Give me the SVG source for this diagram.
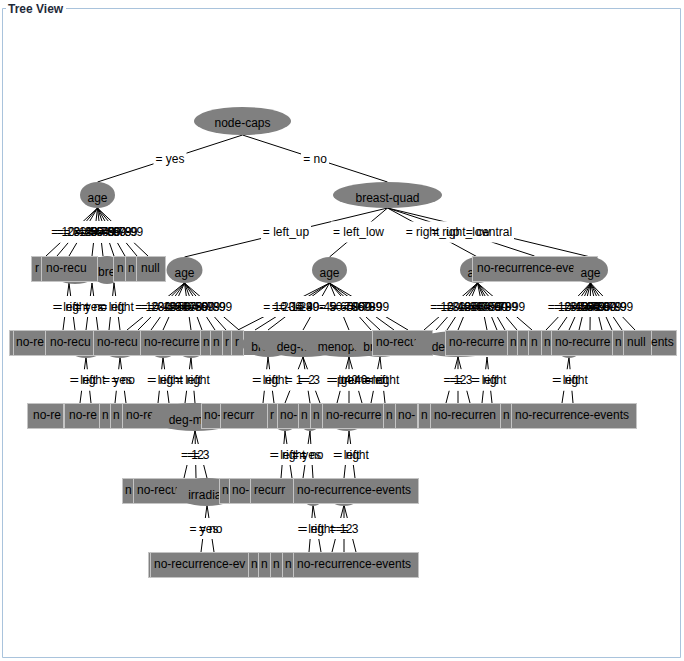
<svg xmlns="http://www.w3.org/2000/svg" width="684" height="661" viewBox="0 0 684 661">
<style>
.e{fill:#808080}
.l{fill:#808080;stroke:#c4c4c4;stroke-width:1}
.f{fill:#808080}
text{font-family:"Liberation Sans",Arial,sans-serif;font-size:12px;fill:#000}
.m{text-anchor:middle}
.b{fill:#fff}
#connectors path{stroke:#000;stroke-width:1;fill:none}
</style>
<rect width="684" height="661" fill="#fff"/>
<g id="frame">
<path d="M6 8.5H2.5V657.5H680.5V8.5H66" fill="none" stroke="#a9c3dc"/>
<text x="8" y="13" style="font-weight:bold;fill:#1e2a3a">Tree View</text>
</g>
<g id="connectors">
<path d="M242.5 135L97.5 182M242.5 135L387.5 182"/>
<path d="M97.5 208L46 256M97.5 208L57 256M97.5 208L69 256M97.5 208L92 256M97.5 208L103 256M97.5 208L114 256M97.5 208L125 256M97.5 208L137 256M97.5 208L148 256"/>
<path d="M387.5 208L184.5 257M387.5 208L329.5 257M387.5 208L477.5 257M387.5 208L534.5 256M387.5 208L590.5 257"/>
<path d="M69 283L63 330M69 283L75 330M92 283L86 330M92 283L98 330M114 283L109 330M114 283L120 330"/>
<path d="M184.5 283L127 330M184.5 283L138 330M184.5 283L151 330M184.5 283L163 330M184.5 283L191 330M184.5 283L202 330M184.5 283L215 330M184.5 283L226 330M184.5 283L239 330"/>
<path d="M329.5 283L238 330M329.5 283L255 330M329.5 283L268 330M329.5 283L303 330M329.5 283L349 330M329.5 283L371 330M329.5 283L380 330M329.5 283L394 330M329.5 283L408 330"/>
<path d="M477.5 283L424 330M477.5 283L436 330M477.5 283L447 330M477.5 283L458 330M477.5 283L487 330M477.5 283L497 330M477.5 283L505 330M477.5 283L517 330M477.5 283L532 330"/>
<path d="M590.5 283L546 330M590.5 283L558 330M590.5 283L569 330M590.5 283L579 330M590.5 283L590 330M590.5 283L602 330M590.5 283L612 330M590.5 283L622 330M590.5 283L635 330"/>
<path d="M86 357L80 403M86 357L91 403M120 357L115 403M120 357L126 403M163 357L158 403M163 357L169 403M191 357L185 403M191 357L195 403"/>
<path d="M268 357L263 403M268 357L274 403M303 357L285 403M303 357L310 403M303 357L320 403M349 357L337 403M349 357L349 403M349 357L362 403M380 357L371 403M380 357L385 403"/>
<path d="M458 357L446 403M458 357L458 403M458 357L470 403M487 357L482 403M487 357L492 403M569 357L562 403M569 357L573 403"/>
<path d="M195 431L184 478M195 431L196 478M195 431L207 478M285 431L281 478M285 431L292 478M310 431L303 478M310 431L313 478M349 431L344 478M349 431L355 478"/>
<path d="M207 505L201 552M207 505L214 552M313 505L309 552M313 505L321 552M344 505L332 552M344 505L344 552M344 505L356 552"/>
</g>
<g id="edge-labels">
<g id="label-boxes" class="b">
<rect x="153.5" y="148" width="33" height="21"/><rect x="301" y="148" width="28" height="21"/>
<rect x="49.25" y="221.5" width="45" height="21"/><rect x="54.75" y="221.5" width="45" height="21"/><rect x="60.75" y="221.5" width="45" height="21"/><rect x="72.25" y="221.5" width="45" height="21"/><rect x="77.75" y="221.5" width="45" height="21"/><rect x="83.25" y="221.5" width="45" height="21"/><rect x="88.75" y="221.5" width="45" height="21"/><rect x="94.75" y="221.5" width="45" height="21"/><rect x="100.25" y="221.5" width="45" height="21"/>
<rect x="261" y="221.5" width="50" height="21"/><rect x="331" y="221.5" width="55" height="21"/><rect x="403.5" y="221.5" width="58" height="21"/><rect x="430" y="221.5" width="62" height="21"/><rect x="464" y="221.5" width="50" height="21"/>
<rect x="51" y="296" width="30" height="21"/><rect x="53" y="296" width="38" height="21"/><rect x="72.5" y="296" width="33" height="21"/><rect x="81" y="296" width="28" height="21"/><rect x="96.5" y="296" width="30" height="21"/><rect x="98" y="296" width="38" height="21"/>
<rect x="133.25" y="296" width="45" height="21"/><rect x="138.75" y="296" width="45" height="21"/><rect x="145.25" y="296" width="45" height="21"/><rect x="151.25" y="296" width="45" height="21"/><rect x="165.25" y="296" width="45" height="21"/><rect x="170.75" y="296" width="45" height="21"/><rect x="177.25" y="296" width="45" height="21"/><rect x="182.75" y="296" width="45" height="21"/><rect x="189.25" y="296" width="45" height="21"/>
<rect x="261.25" y="296" width="45" height="21"/><rect x="269.75" y="296" width="45" height="21"/><rect x="276.25" y="296" width="45" height="21"/><rect x="293.75" y="296" width="45" height="21"/><rect x="316.75" y="296" width="45" height="21"/><rect x="327.75" y="296" width="45" height="21"/><rect x="332.25" y="296" width="45" height="21"/><rect x="339.25" y="296" width="45" height="21"/><rect x="346.25" y="296" width="45" height="21"/>
<rect x="428.25" y="296" width="45" height="21"/><rect x="434.25" y="296" width="45" height="21"/><rect x="439.75" y="296" width="45" height="21"/><rect x="445.25" y="296" width="45" height="21"/><rect x="459.75" y="296" width="45" height="21"/><rect x="464.75" y="296" width="45" height="21"/><rect x="468.75" y="296" width="45" height="21"/><rect x="474.75" y="296" width="45" height="21"/><rect x="482.25" y="296" width="45" height="21"/>
<rect x="545.75" y="296" width="45" height="21"/><rect x="551.75" y="296" width="45" height="21"/><rect x="557.25" y="296" width="45" height="21"/><rect x="562.25" y="296" width="45" height="21"/><rect x="567.75" y="296" width="45" height="21"/><rect x="573.75" y="296" width="45" height="21"/><rect x="578.75" y="296" width="45" height="21"/><rect x="583.75" y="296" width="45" height="21"/><rect x="590.25" y="296" width="45" height="21"/>
<rect x="68" y="369.5" width="30" height="21"/><rect x="69.5" y="369.5" width="38" height="21"/><rect x="101" y="369.5" width="33" height="21"/><rect x="109" y="369.5" width="28" height="21"/><rect x="145.5" y="369.5" width="30" height="21"/><rect x="147" y="369.5" width="38" height="21"/><rect x="173" y="369.5" width="30" height="21"/><rect x="174" y="369.5" width="38" height="21"/>
<rect x="250.5" y="369.5" width="30" height="21"/><rect x="252" y="369.5" width="38" height="21"/><rect x="283.5" y="369.5" width="21" height="21"/><rect x="296" y="369.5" width="21" height="21"/><rect x="301" y="369.5" width="21" height="21"/><rect x="324.5" y="369.5" width="62" height="21"/><rect x="326" y="369.5" width="34" height="21"/><rect x="328.5" y="369.5" width="41" height="21"/><rect x="360.5" y="369.5" width="30" height="21"/><rect x="363.5" y="369.5" width="38" height="21"/>
<rect x="441.5" y="369.5" width="21" height="21"/><rect x="447.5" y="369.5" width="21" height="21"/><rect x="453.5" y="369.5" width="21" height="21"/><rect x="469.5" y="369.5" width="30" height="21"/><rect x="470.5" y="369.5" width="38" height="21"/><rect x="550.5" y="369.5" width="30" height="21"/><rect x="552" y="369.5" width="38" height="21"/>
<rect x="179" y="444" width="21" height="21"/><rect x="185" y="444" width="21" height="21"/><rect x="190.5" y="444" width="21" height="21"/><rect x="268" y="444" width="30" height="21"/><rect x="269.5" y="444" width="38" height="21"/><rect x="290" y="444" width="33" height="21"/><rect x="297.5" y="444" width="28" height="21"/><rect x="331.5" y="444" width="30" height="21"/><rect x="333" y="444" width="38" height="21"/>
<rect x="187.5" y="518" width="33" height="21"/><rect x="196.5" y="518" width="28" height="21"/><rect x="296" y="518" width="30" height="21"/><rect x="298" y="518" width="38" height="21"/><rect x="327.5" y="518" width="21" height="21"/><rect x="333.5" y="518" width="21" height="21"/><rect x="339.5" y="518" width="21" height="21"/>
</g>
<g id="label-texts" class="m">
<text x="170" y="162.5">= yes</text><text x="315" y="162.5">= no</text>
<text x="71.75" y="236">= 10-19</text><text x="77.25" y="236">= 20-29</text><text x="83.25" y="236">= 30-39</text><text x="94.75" y="236">= 40-49</text><text x="100.25" y="236">= 50-59</text><text x="105.75" y="236">= 60-69</text><text x="111.25" y="236">= 70-79</text><text x="117.25" y="236">= 80-89</text><text x="122.75" y="236">= 90-99</text>
<text x="286" y="236">= left_up</text><text x="358.5" y="236">= left_low</text><text x="432.5" y="236">= right_up</text><text x="461" y="236">= right_low</text><text x="489" y="236">= central</text>
<text x="66" y="310.5">= left</text><text x="72" y="310.5">= right</text><text x="89" y="310.5">= yes</text><text x="95" y="310.5">= no</text><text x="111.5" y="310.5">= left</text><text x="117" y="310.5">= right</text>
<text x="155.75" y="310.5">= 10-19</text><text x="161.25" y="310.5">= 20-29</text><text x="167.75" y="310.5">= 30-39</text><text x="173.75" y="310.5">= 40-49</text><text x="187.75" y="310.5">= 50-59</text><text x="193.25" y="310.5">= 60-69</text><text x="199.75" y="310.5">= 70-79</text><text x="205.25" y="310.5">= 80-89</text><text x="211.75" y="310.5">= 90-99</text>
<text x="283.75" y="310.5">= 10-19</text><text x="292.25" y="310.5">= 20-29</text><text x="298.75" y="310.5">= 30-39</text><text x="316.25" y="310.5">= 40-49</text><text x="339.25" y="310.5">= 50-59</text><text x="350.25" y="310.5">= 60-69</text><text x="354.75" y="310.5">= 70-79</text><text x="361.75" y="310.5">= 80-89</text><text x="368.75" y="310.5">= 90-99</text>
<text x="450.75" y="310.5">= 10-19</text><text x="456.75" y="310.5">= 20-29</text><text x="462.25" y="310.5">= 30-39</text><text x="467.75" y="310.5">= 40-49</text><text x="482.25" y="310.5">= 50-59</text><text x="487.25" y="310.5">= 60-69</text><text x="491.25" y="310.5">= 70-79</text><text x="497.25" y="310.5">= 80-89</text><text x="504.75" y="310.5">= 90-99</text>
<text x="568.25" y="310.5">= 10-19</text><text x="574.25" y="310.5">= 20-29</text><text x="579.75" y="310.5">= 30-39</text><text x="584.75" y="310.5">= 40-49</text><text x="590.25" y="310.5">= 50-59</text><text x="596.25" y="310.5">= 60-69</text><text x="601.25" y="310.5">= 70-79</text><text x="606.25" y="310.5">= 80-89</text><text x="612.75" y="310.5">= 90-99</text>
<text x="83" y="384">= left</text><text x="88.5" y="384">= right</text><text x="117.5" y="384">= yes</text><text x="123" y="384">= no</text><text x="160.5" y="384">= left</text><text x="166" y="384">= right</text><text x="188" y="384">= left</text><text x="193" y="384">= right</text>
<text x="265.5" y="384">= left</text><text x="271" y="384">= right</text><text x="294" y="384">= 1</text><text x="306.5" y="384">= 2</text><text x="311.5" y="384">= 3</text><text x="355.5" y="384">= premeno</text><text x="343" y="384">= lt40</text><text x="349" y="384">= ge40</text><text x="375.5" y="384">= left</text><text x="382.5" y="384">= right</text>
<text x="452" y="384">= 1</text><text x="458" y="384">= 2</text><text x="464" y="384">= 3</text><text x="484.5" y="384">= left</text><text x="489.5" y="384">= right</text><text x="565.5" y="384">= left</text><text x="571" y="384">= right</text>
<text x="189.5" y="458.5">= 1</text><text x="195.5" y="458.5">= 2</text><text x="201" y="458.5">= 3</text><text x="283" y="458.5">= left</text><text x="288.5" y="458.5">= right</text><text x="306.5" y="458.5">= yes</text><text x="311.5" y="458.5">= no</text><text x="346.5" y="458.5">= left</text><text x="352" y="458.5">= right</text>
<text x="204" y="532.5">= yes</text><text x="210.5" y="532.5">= no</text><text x="311" y="532.5">= left</text><text x="317" y="532.5">= right</text><text x="338" y="532.5">= 1</text><text x="344" y="532.5">= 2</text><text x="350" y="532.5">= 3</text>
</g>
</g>
<g id="nodes">
<g id="n-node-caps"><ellipse class="e" cx="242.5" cy="121" rx="48.5" ry="14"/><text class="m" x="242.5" y="127">node-caps</text></g>
<g id="n-age-yes"><ellipse class="e" cx="97.5" cy="195" rx="17.5" ry="13"/><text class="m" x="97.5" y="201.5">age</text></g>
<g id="n-breast-quad"><ellipse class="e" cx="387.5" cy="195" rx="54.5" ry="13"/><text class="m" x="387.5" y="201.5">breast-quad</text></g>

<g id="row3">
<g id="n3-hidden"><ellipse class="e" cx="75" cy="270" rx="24" ry="14"/><ellipse class="e" cx="107" cy="270" rx="16" ry="14"/></g>
<g id="n3-1"><rect class="l" x="31.5" y="256.5" width="10" height="25"/><text x="35" y="272">r</text></g>
<g id="n3-2"><rect class="l" x="41.5" y="256.5" width="56" height="25"/><text x="46" y="272">no-recu</text></g>
<g id="n3-3"><rect class="f" x="98" y="257" width="15" height="24"/><text x="98" y="276">bre</text></g>
<g id="n3-4"><rect class="l" x="113.5" y="256.5" width="12" height="25"/><text x="117" y="272">n</text></g>
<g id="n3-5"><rect class="l" x="125.5" y="256.5" width="11" height="25"/><text x="128" y="272">n</text></g>
<g id="n3-6"><rect class="l" x="136.5" y="256.5" width="29" height="25"/><text x="141" y="272">null</text></g>
<g id="n3-age-lu"><ellipse class="e" cx="184.5" cy="270" rx="18" ry="13"/><text class="m" x="184.5" y="276.5">age</text></g>
<g id="n3-age-ll"><ellipse class="e" cx="329.5" cy="270" rx="17.5" ry="13"/><text class="m" x="329.5" y="276.5">age</text></g>
<g id="n3-age-ru"><ellipse class="e" cx="477.5" cy="270" rx="17.5" ry="13"/><text class="m" x="477.5" y="276.5">age</text></g>
<g id="n3-leaf-rl"><rect class="l" x="472.5" y="256.5" width="125" height="25"/><text x="477" y="272">no-recurrence-eve</text></g>
<g id="n3-age-c"><ellipse class="e" cx="590.5" cy="270" rx="17.5" ry="13"/><text class="m" x="590.5" y="276.5">age</text></g>
</g>

<g id="row4">
<g id="n4-hidden"><ellipse class="e" cx="86" cy="344" rx="20" ry="14"/><ellipse class="e" cx="120" cy="344" rx="20" ry="14"/><ellipse class="e" cx="163" cy="344" rx="16" ry="14"/><ellipse class="e" cx="191" cy="344" rx="16" ry="14"/><ellipse class="e" cx="569" cy="344" rx="14" ry="14"/></g>
<g id="n4-1"><rect class="l" x="9.5" y="330.5" width="4" height="25"/></g>
<g id="n4-2"><rect class="l" x="13.5" y="330.5" width="32" height="25"/><text x="16" y="346">no-re</text></g>
<g id="n4-3"><rect class="l" x="45.5" y="330.5" width="48" height="25"/><text x="50" y="346">no-recu</text></g>
<g id="n4-4"><rect class="l" x="93.5" y="330.5" width="47" height="25"/><text x="97" y="346">no-recu</text></g>
<g id="n4-5"><rect class="l" x="140.5" y="330.5" width="60" height="25"/><text x="144" y="346">no-recurre</text></g>
<g id="n4-6"><rect class="l" x="200.5" y="330.5" width="10" height="25"/><text x="203" y="346">n</text></g>
<g id="n4-7"><rect class="l" x="210.5" y="330.5" width="12" height="25"/><text x="213" y="346">n</text></g>
<g id="n4-8"><rect class="l" x="222.5" y="330.5" width="9" height="25"/><text x="225" y="346">r</text></g>
<g id="n4-9"><rect class="l" x="231.5" y="330.5" width="12" height="25"/><text x="235" y="346">r</text></g>
<g id="n4-band"><rect class="f" x="244" y="331" width="128" height="24"/></g>
<g id="n4-breast-a"><ellipse class="e" cx="268" cy="344" rx="26" ry="13"/><text class="m" x="268" y="350.5">breast</text></g>
<g id="n4-deg-a"><ellipse class="e" cx="303" cy="344" rx="45" ry="13"/><text class="m" x="303" y="350.5">deg-malig</text></g>
<g id="n4-menopause"><ellipse class="e" cx="349" cy="344" rx="50" ry="13"/><text class="m" x="349" y="350.5">menopause</text></g>
<g id="n4-breast-b"><ellipse class="e" cx="380" cy="344" rx="28" ry="13"/><text class="m" x="380" y="350.5">breast</text></g>
<g id="n4-10"><rect class="l" x="372.5" y="330.5" width="60" height="25"/><text x="376" y="346">no-recu</text></g>
<g id="n4-deg-b"><ellipse class="e" cx="458" cy="344" rx="45" ry="13"/><text class="m" x="458" y="350.5">deg-malig</text></g>
<g id="n4-11"><rect class="l" x="445.5" y="330.5" width="62" height="25"/><text x="449" y="346">no-recurre</text></g>
<g id="n4-12"><rect class="l" x="507.5" y="330.5" width="10" height="25"/><text x="510" y="346">n</text></g>
<g id="n4-13"><rect class="l" x="517.5" y="330.5" width="11" height="25"/><text x="520" y="346">n</text></g>
<g id="n4-14"><rect class="l" x="528.5" y="330.5" width="13" height="25"/><text x="531" y="346">n</text></g>
<g id="n4-15"><rect class="l" x="541.5" y="330.5" width="10" height="25"/><text x="544" y="346">n</text></g>
<g id="n4-16"><rect class="l" x="551.5" y="330.5" width="61" height="25"/><text x="555" y="346">no-recurre</text></g>
<g id="n4-17"><rect class="l" x="612.5" y="330.5" width="11" height="25"/><text x="615" y="346">n</text></g>
<g id="n4-18"><rect class="l" x="623.5" y="330.5" width="28" height="25"/><text x="627" y="346">null</text></g>
<g id="n4-19"><rect class="l" x="651.5" y="330.5" width="25" height="25"/><text x="651" y="346">ents</text></g>
</g>

<g id="row5">
<g id="n5-hidden"><ellipse class="e" cx="285" cy="417" rx="14" ry="14"/><ellipse class="e" cx="310" cy="417" rx="12" ry="14"/><ellipse class="e" cx="347" cy="417" rx="20" ry="14"/></g>
<g id="n5-1"><rect class="l" x="27.5" y="403.5" width="36" height="25"/><text x="33" y="419">no-re</text></g>
<g id="n5-2"><rect class="l" x="64.5" y="403.5" width="35" height="25"/><text x="69" y="419">no-re</text></g>
<g id="n5-3"><rect class="l" x="99.5" y="403.5" width="11" height="25"/><text x="102" y="419">n</text></g>
<g id="n5-4"><rect class="l" x="110.5" y="403.5" width="12" height="25"/><text x="113" y="419">n</text></g>
<g id="n5-5"><rect class="l" x="122.5" y="403.5" width="79" height="25"/><text x="126" y="419">no-recu</text></g>
<g id="n5-deg"><ellipse class="e" cx="195" cy="417" rx="45" ry="14"/><text class="m" x="195" y="423.5">deg-malig</text></g>
<g id="n5-6"><rect class="l" x="201.5" y="403.5" width="19" height="25"/><text x="204" y="419">no-</text></g>
<g id="n5-7"><rect class="l" x="220.5" y="403.5" width="47" height="25"/><text x="223" y="419">recurr</text></g>
<g id="n5-8"><rect class="l" x="267.5" y="403.5" width="10" height="25"/><text x="270" y="419">r</text></g>
<g id="n5-9"><rect class="l" x="277.5" y="403.5" width="21" height="25"/><text x="280" y="419">no-</text></g>
<g id="n5-10"><rect class="l" x="298.5" y="403.5" width="12" height="25"/><text x="301" y="419">n</text></g>
<g id="n5-11"><rect class="l" x="310.5" y="403.5" width="12" height="25"/><text x="313" y="419">n</text></g>
<g id="n5-12"><rect class="l" x="322.5" y="403.5" width="61" height="25"/><text x="326" y="419">no-recurre</text></g>
<g id="n5-13"><rect class="l" x="383.5" y="403.5" width="12" height="25"/><text x="386" y="419">n</text></g>
<g id="n5-14"><rect class="l" x="395.5" y="403.5" width="22" height="25"/><text x="398" y="419">no-</text></g>
<g id="n5-15"><rect class="l" x="418.5" y="403.5" width="12" height="25"/><text x="421" y="419">n</text></g>
<g id="n5-16"><rect class="l" x="430.5" y="403.5" width="70" height="25"/><text x="434" y="419">no-recurren</text></g>
<g id="n5-17"><rect class="l" x="500.5" y="403.5" width="11" height="25"/><text x="503" y="419">n</text></g>
<g id="n5-18"><rect class="l" x="511.5" y="403.5" width="125" height="25"/><text x="515" y="419">no-recurrence-events</text></g>
</g>

<g id="row6">
<g id="n6-hidden"><ellipse class="e" cx="313" cy="492" rx="12" ry="14"/><ellipse class="e" cx="344" cy="492" rx="18" ry="14"/></g>
<g id="n6-1"><rect class="l" x="122.5" y="478.5" width="11" height="25"/><text x="125" y="494">n</text></g>
<g id="n6-2"><rect class="l" x="133.5" y="478.5" width="86" height="25"/><text x="137" y="494">no-recu</text></g>
<g id="n6-irradiat"><ellipse class="e" cx="206.5" cy="492" rx="31.5" ry="14"/><text class="m" x="206.5" y="498.5">irradiat</text></g>
<g id="n6-3"><rect class="l" x="219.5" y="478.5" width="10" height="25"/><text x="222" y="494">n</text></g>
<g id="n6-4"><rect class="l" x="229.5" y="478.5" width="21" height="25"/><text x="232" y="494">no-</text></g>
<g id="n6-5"><rect class="l" x="250.5" y="478.5" width="43" height="25"/><text x="254" y="494">recurr</text></g>
<g id="n6-6"><rect class="l" x="293.5" y="478.5" width="125" height="25"/><text x="297" y="494">no-recurrence-events</text></g>
</g>

<g id="row7">
<g id="n7-1"><rect class="l" x="148.5" y="552.5" width="2" height="25"/></g>
<g id="n7-2"><rect class="l" x="150.5" y="552.5" width="98" height="25"/><text x="154" y="568">no-recurrence-ev</text></g>
<g id="n7-3"><rect class="l" x="248.5" y="552.5" width="10" height="25"/><text x="251" y="568">n</text></g>
<g id="n7-4"><rect class="l" x="258.5" y="552.5" width="12" height="25"/><text x="261" y="568">n</text></g>
<g id="n7-5"><rect class="l" x="270.5" y="552.5" width="12" height="25"/><text x="273" y="568">n</text></g>
<g id="n7-6"><rect class="l" x="282.5" y="552.5" width="11" height="25"/><text x="285" y="568">n</text></g>
<g id="n7-7"><rect class="l" x="293.5" y="552.5" width="125" height="25"/><text x="297" y="568">no-recurrence-events</text></g>
</g>
</g>
</svg>
